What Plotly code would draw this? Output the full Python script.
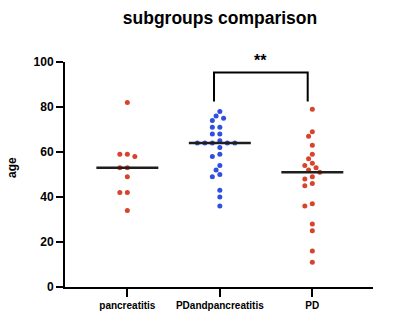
import numpy as np
import plotly.graph_objects as go

categories = ["pancreatitis", "PDandpancreatitis", "PD"]
pancreatitis = [82, 59, 59, 58, 53, 53, 49, 42, 42, 34]
pd_and_pancreatitis = [78, 76, 75, 74, 71, 71, 68, 68, 64, 64, 64, 64, 65, 64,
                       62, 59, 58, 54, 52, 50, 49, 43, 40, 36]
pd_only = [79, 69, 67, 63, 59, 57, 55, 54, 53, 52, 51, 49, 48, 46, 45, 37, 36,
           28, 25, 16, 11]
series = [pancreatitis, pd_and_pancreatitis, pd_only]
colors = ["#d8432b", "#2e4fe0", "#d8432b"]
y_ticks = [0, 20, 40, 60, 80, 100]
significance = "**"
y_title = "age"

# layout geometry
W, H = 400, 314
ML, MR, MT, MB = 65, 27, 62, 27
PW, PH = W - ML - MR, H - MT - MB
XR = [-0.674, 2.656]
YR = [0, 100]
px_x = PW / (XR[1] - XR[0])
px_y = PH / (YR[1] - YR[0])


def swarm(vals, d=5.0, step=3.75):
    placed = []
    offs = [0.0] * len(vals)
    order = sorted(range(len(vals)), key=lambda i: -vals[i])
    cands = sorted([k * step for k in range(-10, 11)], key=lambda o: (abs(o), o))
    for i in order:
        y = vals[i] * px_y
        chosen = 0.0
        for o in cands:
            if all((o - po) ** 2 + (y - py) ** 2 >= d * d for po, py in placed):
                chosen = o
                break
        placed.append((chosen, y))
        offs[i] = chosen / px_x
    return offs


fig = go.Figure()
for i, (vals, col) in enumerate(zip(series, colors)):
    offs = swarm(vals)
    fig.add_trace(go.Scatter(
        x=[i + o for o in offs], y=vals, mode="markers",
        marker=dict(size=5, color=col, line=dict(width=0)),
        showlegend=False, hoverinfo="y"))
    med = float(np.median(vals))
    fig.add_shape(type="line", xref="x", yref="y", x0=i - 0.335, x1=i + 0.335,
                  y0=med, y1=med, line=dict(color="#1e1e1e", width=2.5))

# significance bracket between groups 1 and 2
bx0, bx1, btop, bbot = 0.937, 1.95, 95.3, 82.5
fig.add_shape(type="path", xref="x", yref="y",
              path=f"M {bx0},{bbot} L {bx0},{btop} L {bx1},{btop} L {bx1},{bbot}",
              line=dict(color="black", width=2))
star_y_px = 61  # pixel row of the asterisks
fig.add_annotation(x=(bx0 + bx1) / 2, y=(H - MB - star_y_px) / PH,
                   xref="x", yref="paper", text=f"<b>{significance}</b>",
                   showarrow=False, font=dict(size=16, color="black", family="Liberation Sans"),
                   yanchor="middle")
# y-axis title
fig.add_annotation(x=(12 - ML) / PW, y=(H - MB - 168) / PH, xref="paper", yref="paper",
                   text=f"<b>{y_title}</b>", textangle=-90, showarrow=False,
                   xanchor="center", yanchor="middle",
                   font=dict(size=12, color="black", family="Liberation Sans"))

fig.update_layout(
    width=W, height=H, margin=dict(l=ML, r=MR, t=MT, b=MB, autoexpand=False),
    paper_bgcolor="white", plot_bgcolor="white",
    font=dict(family="Liberation Sans, Arial, sans-serif", color="black"),
    title=dict(text="<b>subgroups comparison</b>", x=0.55, xanchor="center",
               xref="container", y=1 - 18 / H, yref="container",
               yanchor="middle", font=dict(size=17.5, color="black")),
    xaxis=dict(range=XR, tickmode="array", tickvals=[0, 1, 2], automargin=False,
               ticktext=[f"<b>{c}</b>" for c in categories],
               showline=True, linecolor="black", linewidth=2, ticks="outside",
               ticklen=8, tickwidth=2, tickcolor="black", showgrid=False, zeroline=False,
               tickfont=dict(size=10, color="black")),
    yaxis=dict(range=YR, tickmode="array", tickvals=y_ticks, automargin=False,
               ticktext=[f"<b>{t}</b>" for t in y_ticks],
               showline=True, linecolor="black", linewidth=2, ticks="outside",
               ticklen=7, tickwidth=2, tickcolor="black", showgrid=False, zeroline=False,
               tickfont=dict(size=12, color="black")),
)

fig.write_html("out.html", config={"displayModeBar": False},
               post_script="document.body.style.margin='0';document.body.style.overflow='hidden';")
